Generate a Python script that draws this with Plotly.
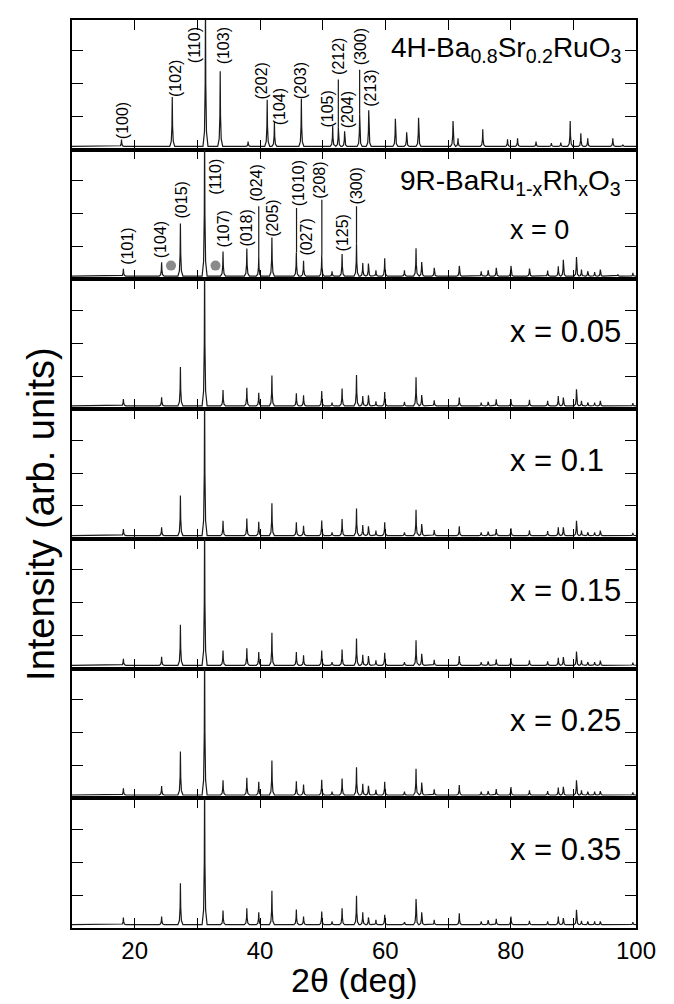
import plotly.graph_objects as go
from plotly.subplots import make_subplots

X_MIN, X_MAX = 10, 100
BASE = 0.1

# ---- 4H-Ba0.8Sr0.2RuO3 peaks (2theta, height) ----
h4_pos = [17.9, 26.0, 31.3, 33.65, 38.1, 41.15, 42.3, 46.6, 51.6, 52.5, 53.5,
          55.9, 57.35, 61.6, 63.4, 65.3, 70.8, 71.6, 75.55, 79.5, 81.1, 84.05,
          86.5, 88.0, 89.5, 91.2, 92.3, 96.3, 97.9]
h4_int = [0.31, 1.6, 4.6, 2.38, 0.25, 1.52, 0.84, 1.55, 0.72, 0.67, 0.56,
          1.08, 1.2, 0.94, 0.53, 0.97, 0.87, 0.35, 0.62, 0.32, 0.35, 0.25,
          0.2, 0.22, 0.87, 0.5, 0.35, 0.35, 0.15]

# ---- 9R-BaRu1-xRhxO3 peaks ----
r9_pos = [18.2, 24.3, 27.3, 31.16, 34.1, 37.9, 39.8, 41.9, 45.8, 46.95, 49.85,
          51.5, 53.1, 55.4, 56.4, 57.3, 58.5, 59.9, 63.05, 64.9, 65.8, 67.8,
          71.8, 75.3, 76.4, 77.7, 80.05, 83.0, 85.9, 87.6, 88.4, 90.5, 91.3,
          92.3, 93.4, 94.3, 97.1, 99.5]
r9_x0 = [0.32, 0.52, 1.7, 4.6, 0.85, 0.94, 0.7, 1.27, 0.82, 0.57, 0.74, 0.25,
         0.77, 1.1, 0.5, 0.48, 0.28, 0.64, 0.28, 0.95, 0.53, 0.35, 0.41, 0.25,
         0.28, 0.35, 0.41, 0.33, 0.27, 0.4, 0.6, 0.68, 0.3, 0.25, 0.22, 0.3,
         0.15, 0.2]
r9_x005 = [0.31, 0.36, 1.28, 4.6, 0.58, 0.65, 0.5, 1.02, 0.48, 0.42, 0.55, 0.2,
           0.63, 1.04, 0.4, 0.42, 0.24, 0.52, 0.22, 0.97, 0.43, 0.27, 0.35, 0.2,
           0.22, 0.3, 0.3, 0.28, 0.25, 0.4, 0.35, 0.6, 0.25, 0.2, 0.2, 0.25,
           0.12, 0.18]
r9_x01 = [0.3, 0.35, 1.32, 4.6, 0.55, 0.62, 0.52, 1.08, 0.5, 0.4, 0.56, 0.2,
          0.6, 0.92, 0.42, 0.38, 0.25, 0.5, 0.2, 0.88, 0.45, 0.27, 0.38, 0.2,
          0.22, 0.3, 0.32, 0.26, 0.24, 0.35, 0.35, 0.55, 0.25, 0.2, 0.2, 0.25,
          0.12, 0.18]
r9_x015 = [0.3, 0.36, 1.33, 4.6, 0.55, 0.62, 0.5, 1.09, 0.5, 0.4, 0.55, 0.2,
           0.58, 0.91, 0.42, 0.38, 0.25, 0.48, 0.2, 0.86, 0.45, 0.27, 0.38, 0.2,
           0.22, 0.28, 0.32, 0.25, 0.22, 0.33, 0.35, 0.52, 0.25, 0.2, 0.2, 0.24,
           0.12, 0.18]
r9_x025 = [0.3, 0.37, 1.42, 4.6, 0.55, 0.62, 0.5, 1.15, 0.52, 0.42, 0.56, 0.2,
           0.6, 0.94, 0.44, 0.38, 0.26, 0.5, 0.2, 0.9, 0.48, 0.27, 0.4, 0.2,
           0.22, 0.28, 0.34, 0.24, 0.22, 0.33, 0.35, 0.55, 0.24, 0.2, 0.2, 0.22,
           0.12, 0.18]
r9_x035 = [0.32, 0.35, 1.36, 4.6, 0.53, 0.6, 0.48, 1.13, 0.56, 0.35, 0.5, 0.2,
           0.6, 0.98, 0.48, 0.32, 0.25, 0.4, 0.18, 0.88, 0.48, 0.25, 0.45, 0.2,
           0.24, 0.28, 0.35, 0.22, 0.2, 0.35, 0.3, 0.55, 0.22, 0.2, 0.2, 0.2,
           0.12, 0.18]

panel_texts = ["x = 0", "x = 0.05", "x = 0.1", "x = 0.15", "x = 0.25", "x = 0.35"]
r9_series = [r9_x0, r9_x005, r9_x01, r9_x015, r9_x025, r9_x035]

# reflection labels: (text, x, y)
h4_labels = [("(100)", 18.0, 0.87), ("(102)", 26.5, 2.16), ("(110)", 29.6, 3.17),
             ("(103)", 34.1, 3.14), ("(202)", 40.2, 2.08), ("(104)", 43.1, 1.3),
             ("(203)", 46.4, 2.08), ("(105)", 50.7, 1.22), ("(212)", 52.4, 2.84),
             ("(204)", 54.0, 1.22), ("(300)", 56.0, 3.12), ("(213)", 57.7, 1.88)]
h4_leaders = [(52.5, 2.13, 0.67), (55.9, 2.43, 1.08)]
r9_labels = [("(101)", 18.8, 1.0), ("(104)", 24.25, 1.2), ("(015)", 27.4, 2.4),
             ("(110)", 33.0, 3.12), ("(107)", 34.1, 1.52), ("(018)", 37.8, 1.55),
             ("(024)", 39.4, 2.92), ("(205)", 42.05, 1.87), ("(1010)", 46.05, 2.92),
             ("(027)", 47.5, 1.27), ("(208)", 49.6, 3.0), ("(125)", 53.1, 1.4),
             ("(300)", 55.45, 2.85)]
r9_leaders = [(39.8, 2.22, 0.7), (45.83, 2.17, 0.82), (49.87, 2.42, 0.74), (55.4, 2.22, 1.1)]
impurity_x = [25.8, 32.9]
impurity_y = [0.42, 0.42]

x_tickvals = [20, 40, 60, 80, 100]
x_ticktext = ["20", "40", "60", "80", "100"]

FONT = "Liberation Sans, Arial, Helvetica, sans-serif"
LINE = "#1a1a1a"


def profile(pos, ints, base):
    offs = [-0.4, -0.16, -0.05, 0.0, 0.05, 0.16, 0.4]
    frac = [0.0, 0.1, 0.42, 1.0, 0.42, 0.1, 0.0]
    xs, ys = [X_MIN], [base]
    for p, h in sorted(zip(pos, ints)):
        for o, f in zip(offs, frac):
            xs.append(p + o)
            ys.append(base + f * (h - base))
    xs.append(X_MAX)
    ys.append(base)
    return xs, ys


fig = make_subplots(rows=7, cols=1, shared_xaxes=True, vertical_spacing=0)

xs, ys = profile(h4_pos, h4_int, BASE)
fig.add_trace(go.Scatter(x=xs, y=ys, mode="lines", line=dict(color=LINE, width=1.2),
                         showlegend=False, hoverinfo="skip"), row=1, col=1)
for i, ser in enumerate(r9_series):
    xs, ys = profile(r9_pos, ser, BASE)
    fig.add_trace(go.Scatter(x=xs, y=ys, mode="lines", line=dict(color=LINE, width=1.2),
                             showlegend=False, hoverinfo="skip"), row=i + 2, col=1)

fig.add_trace(go.Scatter(x=impurity_x, y=impurity_y, mode="markers",
                         marker=dict(size=10, color="#8a8a8a"), showlegend=False,
                         hoverinfo="skip"), row=2, col=1)

for (lx, y0, y1) in h4_leaders:
    fig.add_trace(go.Scatter(x=[lx, lx], y=[y0, y1], mode="lines",
                             line=dict(color=LINE, width=1.2), showlegend=False,
                             hoverinfo="skip"), row=1, col=1)
for (lx, y0, y1) in r9_leaders:
    fig.add_trace(go.Scatter(x=[lx, lx], y=[y0, y1], mode="lines",
                             line=dict(color=LINE, width=1.2), showlegend=False,
                             hoverinfo="skip"), row=2, col=1)

for r in range(1, 8):
    fig.update_xaxes(range=[X_MIN, X_MAX], tickvals=x_tickvals, ticktext=x_ticktext,
                     ticks="inside", ticklen=10, tickwidth=1.3, tickcolor="black",
                     minor=dict(dtick=10, tick0=0, ticks="inside", ticklen=10,
                                tickwidth=1.3, tickcolor="black", showgrid=False),
                     showline=True, linewidth=1.5, linecolor="black", mirror="ticks",
                     showgrid=False, zeroline=False,
                     tickfont=dict(family=FONT, size=24, color="black"), row=r, col=1)
    fig.update_yaxes(range=[0, 3.94], tickvals=[1, 2, 3], ticks="inside", ticklen=11,
                     tickwidth=1.3, tickcolor="black", showticklabels=False,
                     showline=True, linewidth=1.5, linecolor="black", mirror="ticks",
                     showgrid=False, zeroline=False, row=r, col=1)

ann = []
for (t, lx, ly) in h4_labels:
    ann.append(dict(text=t, x=lx, y=ly, xref="x", yref="y", textangle=-90,
                    showarrow=False, xanchor="center", yanchor="middle",
                    font=dict(family=FONT, size=16, color="black")))
for (t, lx, ly) in r9_labels:
    ann.append(dict(text=t, x=lx, y=ly, xref="x2", yref="y2", textangle=-90,
                    showarrow=False, xanchor="center", yanchor="middle",
                    font=dict(family=FONT, size=16, color="black")))
ann.append(dict(text="4H-Ba<sub>0.8</sub>Sr<sub>0.2</sub>RuO<sub>3</sub>", x=98, y=3.05,
                xref="x", yref="y", showarrow=False, xanchor="right", yanchor="middle",
                font=dict(family=FONT, size=28, color="black")))
ann.append(dict(text="9R-BaRu<sub>1-x</sub>Rh<sub>x</sub>O<sub>3</sub>", x=98, y=2.95,
                xref="x2", yref="y2", showarrow=False, xanchor="right", yanchor="middle",
                font=dict(family=FONT, size=28, color="black")))
for i, t in enumerate(panel_texts):
    yy = 1.5 if i == 0 else 2.37
    fs = 27 if i == 0 else 31
    ax = str(i + 2)
    ann.append(dict(text=t, x=79.5, y=yy, xref="x" + ax, yref="y" + ax,
                    showarrow=False, xanchor="left", yanchor="middle",
                    font=dict(family=FONT, size=fs, color="black")))
ann.append(dict(text="2θ (deg)", x=0.5, y=-0.057, xref="paper", yref="paper",
                showarrow=False, xanchor="center", yanchor="middle",
                font=dict(family=FONT, size=34, color="black")))
ann.append(dict(text="Intensity (arb. units)", x=-0.055, y=0.456, xref="paper",
                yref="paper", showarrow=False, textangle=-90, xanchor="center",
                yanchor="middle", font=dict(family=FONT, size=38, color="black")))

fig.update_layout(width=674, height=1004, margin=dict(l=64, r=46, t=10, b=84),
                  paper_bgcolor="white", plot_bgcolor="white", annotations=ann,
                  font=dict(family=FONT, color="black"))

fig.write_html("out.html")
